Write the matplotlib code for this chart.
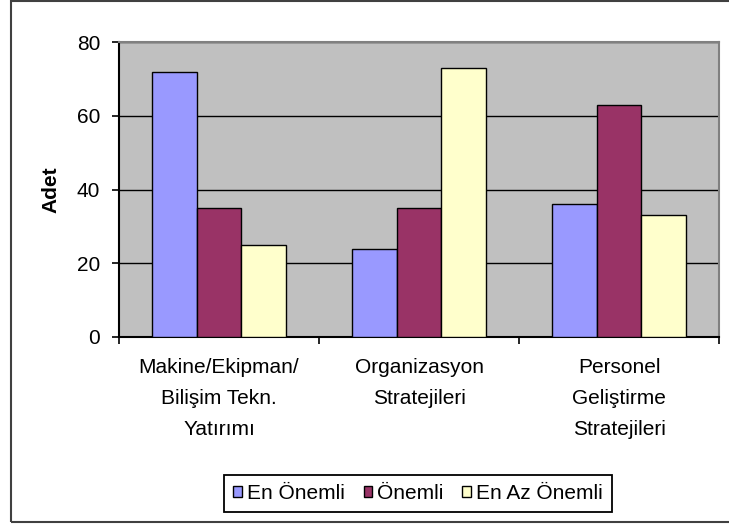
import matplotlib
matplotlib.use("Agg")
import matplotlib.pyplot as plt
from matplotlib.patches import Rectangle
import numpy as np

categories = ["Makine/Ekipman/\nBilişim Tekn.\nYatırımı", "Organizasyon\nStratejileri", "Personel\nGeliştirme\nStratejileri"]
series_names = ["En Önemli", "Önemli", "En Az Önemli"]
en_onemli = [72, 24, 36]
onemli = [35, 35, 63]
en_az_onemli = [25, 73, 33]
yticks = [0, 20, 40, 60, 80]
colors = ["#9999FF", "#993366", "#FFFFCC"]

plt.rcParams['font.family'] = ['Liberation Sans', 'DejaVu Sans']

FS = 15
W, H = 729, 527
fig = plt.figure(figsize=(W/100, H/100), dpi=100)
ax = fig.add_axes([119/W, 1-337/H, 600/W, 295/H])
ax.set_facecolor("#C0C0C0")

x = np.arange(len(categories))
bw = 2/9
for i, (vals, c, name) in enumerate(zip([en_onemli, onemli, en_az_onemli], colors, series_names)):
    ax.bar(x + (i-1)*bw, vals, width=bw, color=c, edgecolor="black", linewidth=1.0, label=name, zorder=3)

ax.set_xlim(-0.5, 2.5)
ax.set_ylim(0, 80)
ax.set_yticks(yticks)
ax.yaxis.grid(True, color="black", linewidth=1.0, zorder=1)
ax.set_axisbelow(True)

ax.set_xticks(x)
ax.set_xticklabels(categories, fontsize=FS, linespacing=1.8, va="top")
ax.set_xticks(np.arange(-0.5, 3.0, 1.0), minor=True)
ax.tick_params(axis="x", which="major", length=0, pad=15)
ax.tick_params(axis="x", which="minor", length=5, width=1.2, direction="out")
ax.tick_params(axis="y", labelsize=FS, length=5, width=1.2, direction="out", pad=8.5)

for s in ["left", "bottom"]:
    ax.spines[s].set_color("black")
    ax.spines[s].set_linewidth(1.5)
for s in ["top", "right"]:
    ax.spines[s].set_color("#808080")
    ax.spines[s].set_linewidth(1.5)

ax.set_ylabel("Adet", fontsize=FS, fontweight="bold", labelpad=12)

# outer chart border
fig.patches.append(Rectangle((11/W, 1-522/H), 1.0, 521/H, transform=fig.transFigure,
                             fill=False, edgecolor="#404040", linewidth=1.5, clip_on=False))

leg = fig.legend(loc="center", bbox_to_anchor=(418/W, 1-493.5/H), ncol=3, fontsize=FS,
                 frameon=True, fancybox=False, framealpha=1, edgecolor="black",
                 handlelength=0.4, handleheight=0.4, handletextpad=0.25, columnspacing=0.9,
                 borderpad=0.45, borderaxespad=0)
leg.get_frame().set_linewidth(1.3)

fig.savefig("out.png", dpi=100)
